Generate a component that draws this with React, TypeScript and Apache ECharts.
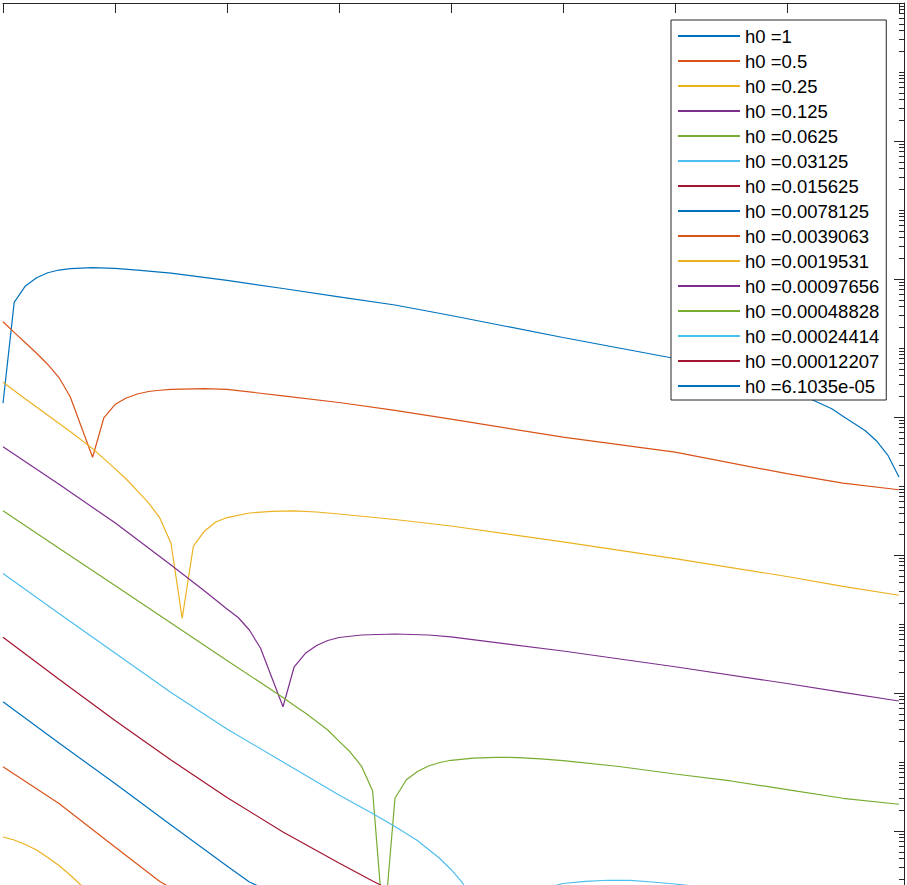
import React, { useEffect, useRef } from 'react';
import * as echarts from 'echarts';

// ---- legend labels (h0 values) ----
const legendLabels = [
  'h0 =1', 'h0 =0.5', 'h0 =0.25', 'h0 =0.125', 'h0 =0.0625', 'h0 =0.03125',
  'h0 =0.015625', 'h0 =0.0078125', 'h0 =0.0039063', 'h0 =0.0019531',
  'h0 =0.00097656', 'h0 =0.00048828', 'h0 =0.00024414', 'h0 =0.00012207', 'h0 =6.1035e-05',
];

// MATLAB default colour order
const palette = ['#0072BD', '#D95319', '#EDB120', '#7E2F8E', '#77AC30', '#4DBEEE', '#A2142F'];

// ---- tick values ----
const xTickValues = [0, 1, 2, 3, 4, 5, 6, 7, 8];
const yMajorExponents = [0, -2, -4, -6, -8, -10, -12, -14, -16, -18];
const yOddExponents = [-1, -3, -5, -7, -9, -11, -13, -15, -17];
const yMinorMantissas = [2, 3, 4, 5, 6, 7, 8, 9];
const yDecadeExponents = [-1, -2, -3, -4, -5, -6, -7, -8, -9, -10, -11, -12, -13, -14, -15, -16, -17, -18];

// ---- series values [x, y] ----
const s1 = [[0, 1.58e-6], [0.1, 4.59e-5], [0.2, 7.93e-5], [0.3, 1.045e-4], [0.4, 1.233e-4], [0.5, 1.349e-4], [0.6, 1.41e-4], [0.7, 1.44e-4], [0.8, 1.459e-4], [1.0, 1.43e-4], [1.2, 1.349e-4], [1.5, 1.213e-4], [2.0, 9.57e-5], [2.5, 7.28e-5], [3.0, 5.52e-5], [3.5, 4.2e-5], [4.0, 2.96e-5], [4.5, 2.05e-5], [5.0, 1.419e-5], [5.5, 1.0e-5], [6.0, 7.05e-6], [6.5, 4.49e-6], [7.0, 2.55e-6], [7.2, 1.854e-6], [7.4, 1.315e-6], [7.5, 1.028e-6], [7.6, 8.05e-7], [7.7, 6.31e-7], [7.8, 4.49e-7], [7.9, 2.81e-7], [8.0, 1.349e-7]];
const s2 = [[0, 2.4e-5], [0.1, 1.683e-5], [0.2, 1.189e-5], [0.3, 8.38e-6], [0.4, 5.77e-6], [0.5, 3.73e-6], [0.6, 1.968e-6], [0.7, 7.16e-7], [0.8, 2.61e-7], [0.9, 9.68e-7], [1.0, 1.517e-6], [1.1, 1.884e-6], [1.2, 2.153e-6], [1.3, 2.344e-6], [1.4, 2.44e-6], [1.5, 2.52e-6], [1.8, 2.57e-6], [2.0, 2.51e-6], [2.5, 2.03e-6], [3.0, 1.622e-6], [3.5, 1.25e-6], [4.0, 9.29e-7], [5.0, 5.12e-7], [6.0, 3.09e-7], [7.0, 1.507e-7], [7.5, 1.104e-7], [8.0, 8.83e-8]];
const s3 = [[0, 3.18e-6], [0.2, 1.828e-6], [0.4, 1.062e-6], [0.6, 6.17e-7], [0.8, 3.48e-7], [0.9, 2.49e-7], [1.0, 1.786e-7], [1.1, 1.262e-7], [1.2, 8.51e-8], [1.3, 5.68e-8], [1.4, 3.44e-8], [1.5, 1.479e-8], [1.6, 1.211e-9], [1.7, 1.349e-8], [1.8, 2.23e-8], [1.9, 3.01e-8], [2.0, 3.49e-8], [2.2, 4.06e-8], [2.4, 4.3e-8], [2.6, 4.35e-8], [2.8, 4.2e-8], [3.0, 3.93e-8], [3.5, 3.27e-8], [4.0, 2.63e-8], [5.0, 1.552e-8], [6.0, 8.87e-9], [7.0, 4.88e-9], [7.5, 3.52e-9], [8.0, 2.61e-9]];
const s4 = [[0, 3.72e-7], [0.5, 1.059e-7], [1.0, 2.93e-8], [1.5, 7.16e-9], [1.8, 3.01e-9], [2.0, 1.648e-9], [2.1, 1.242e-9], [2.2, 8.18e-10], [2.3, 4.45e-10], [2.4, 1.679e-10], [2.5, 6.32e-11], [2.6, 2.4e-10], [2.7, 3.76e-10], [2.8, 4.88e-10], [2.9, 5.77e-10], [3.0, 6.37e-10], [3.2, 6.93e-10], [3.5, 7.16e-10], [3.8, 6.93e-10], [4.0, 6.49e-10], [5.0, 4.06e-10], [6.0, 2.4e-10], [7.0, 1.374e-10], [7.5, 1.023e-10], [8.0, 7.66e-11]];
const s5 = [[0, 4.39e-8], [0.5, 1.25e-8], [1.0, 3.61e-9], [1.5, 1.033e-9], [2.0, 2.96e-10], [2.5, 8.61e-11], [2.6, 6.59e-11], [2.7, 5.13e-11], [2.8, 3.86e-11], [2.9, 2.91e-11], [3.0, 2.01e-11], [3.1, 1.396e-11], [3.2, 8.75e-12], [3.3, 3.84e-12], [3.4, 3.67e-14], [3.5, 2.98e-12], [3.6, 5.48e-12], [3.7, 7.28e-12], [3.8, 8.75e-12], [3.9, 9.84e-12], [4.0, 1.059e-11], [4.2, 1.135e-11], [4.4, 1.169e-11], [4.6, 1.16e-11], [4.8, 1.112e-11], [5.0, 1.047e-11], [5.5, 8.61e-12], [6.0, 6.7e-12], [6.5, 5.31e-12], [7.0, 3.99e-12], [7.5, 2.98e-12], [8.0, 2.44e-12]];
const s6 = [[0, 5.4e-9], [0.5, 1.419e-9], [1.0, 3.8e-10], [1.5, 1.016e-10], [2.0, 3.01e-11], [2.5, 1.0e-11], [3.0, 3.33e-12], [3.3, 1.795e-12], [3.5, 1.161e-12], [3.7, 7.28e-13], [3.9, 3.99e-13], [4.0, 2.77e-13], [4.1, 1.795e-13], [4.2, 1.0e-13], [4.3, 3.67e-14], [4.4, 4.97e-15], [4.5, 3.11e-14], [4.6, 7.66e-14], [4.7, 1.143e-13], [4.8, 1.396e-13], [4.9, 1.57e-13], [5.0, 1.734e-13], [5.2, 1.866e-13], [5.4, 1.932e-13], [5.6, 1.92e-13], [5.8, 1.824e-13], [6.0, 1.706e-13], [6.5, 1.396e-13], [7.0, 1.143e-13], [8.0, 7.16e-14]];
const s7 = [[0, 6.41e-10], [0.5, 1.581e-10], [1.0, 3.99e-11], [1.5, 1.069e-11], [2.0, 3.06e-12], [2.5, 9.68e-13], [3.0, 3.44e-13], [3.3, 1.884e-13], [3.6, 1.069e-13], [4.0, 5.13e-14], [4.5, 1.596e-14], [5.0, 3.56e-15], [5.3, 1.26e-16], [5.6, 2.55e-15], [6.0, 4.97e-15], [7.0, 5.86e-15], [8.0, 4.65e-15]];
const s8 = [[0, 7.48e-11], [0.5, 1.884e-11], [1.0, 4.88e-12], [1.5, 1.222e-12], [2.0, 3.11e-13], [2.2, 1.824e-13], [2.6, 9.35e-14], [3.0, 3.67e-14], [4.0, 5.86e-15], [5.0, 9.35e-16]];
const s9 = [[0, 8.55e-12], [0.5, 2.51e-12], [1.0, 5.86e-13], [1.4, 1.854e-13], [2.0, 5.13e-14], [3.0, 6.93e-15], [4.0, 9.35e-16]];
const s10 = [[0, 8.18e-13], [0.1, 7.41e-13], [0.2, 6.37e-13], [0.3, 5.31e-13], [0.4, 4.13e-13], [0.5, 3.16e-13], [0.6, 2.3e-13], [0.7, 1.62e-13], [1.0, 6.0e-14], [2.0, 1.349e-14]];
const s11 = [[0, 1.0e-13], [0.5, 2.9e-14], [1.0, 7.8e-15]];
const s12 = [[0, 1.15e-14], [0.5, 3.3e-15], [1.0, 9.0e-16]];
const s13 = [[0, 1.3e-15], [0.5, 3.7e-16], [1.0, 1.0e-16]];
const s14 = [[0, 1.5e-16], [0.5, 4.2e-17], [1.0, 1.1e-17]];
const s15 = [[0, 1.7e-17], [0.5, 4.8e-18], [1.0, 1.3e-18]];

const allSeries = [s1, s2, s3, s4, s5, s6, s7, s8, s9, s10, s11, s12, s13, s14, s15];

const axisColor = '#262626';

function buildOption() {
  const yMajor = yMajorExponents.map((e) => Math.pow(10, e));
  const yMinor: number[] = [];
  yOddExponents.forEach((e) => yMinor.push(Math.pow(10, e)));
  yDecadeExponents.forEach((e) => {
    yMinorMantissas.forEach((m) => yMinor.push(m * Math.pow(10, e)));
  });

  const yBase = {
    type: 'log' as const,
    logBase: 10,
    min: 1e-18,
    max: 1,
    position: 'right' as const,
    axisLabel: { show: false },
    splitLine: { show: false },
    minorTick: { show: false },
    minorSplitLine: { show: false },
  };

  return {
    animation: false,
    backgroundColor: '#ffffff',
    grid: { left: 3, top: 3, width: 901, height: 1242, containLabel: false, outerBoundsMode: 'none' },
    xAxis: {
      type: 'value',
      min: 0,
      max: 8.045,
      position: 'top',
      axisLine: { show: true, onZero: false, lineStyle: { color: axisColor, width: 1 } },
      axisTick: { show: true, inside: true, length: 10, customValues: xTickValues, lineStyle: { color: axisColor, width: 1 } },
      axisLabel: { show: false },
      splitLine: { show: false },
    },
    yAxis: [
      {
        ...yBase,
        axisLine: { show: true, onZero: false, lineStyle: { color: axisColor, width: 1 } },
        axisTick: { show: true, inside: true, length: 10, customValues: yMajor, lineStyle: { color: axisColor, width: 1 } },
      },
      {
        ...yBase,
        axisLine: { show: false, onZero: false },
        axisTick: { show: true, inside: true, length: 5, customValues: yMinor, lineStyle: { color: axisColor, width: 1 } },
      },
    ],
    legend: {
      orient: 'vertical',
      left: 671,
      top: 20,
      padding: [6, 7, 4, 6],
      itemWidth: 62,
      itemHeight: 12,
      itemGap: 5,
      itemTextGap: 6,
      backgroundColor: '#ffffff',
      borderColor: axisColor,
      borderWidth: 1,
      borderRadius: 0,
      selectedMode: false,
      itemStyle: { opacity: 0 },
      textStyle: {
        fontFamily: '"Liberation Sans", Arial, Helvetica, sans-serif',
        fontSize: 18.5,
        lineHeight: 20,
        color: '#000000',
      },
      data: legendLabels,
    },
    series: allSeries.map((d, i) => ({
      name: legendLabels[i],
      type: 'line',
      xAxisIndex: 0,
      yAxisIndex: 0,
      data: d,
      symbol: 'none',
      showSymbol: false,
      clip: true,
      lineStyle: { color: palette[i % palette.length], width: 1.2 },
      itemStyle: { color: palette[i % palette.length] },
      emphasis: { disabled: true },
    })),
  };
}

export default function App() {
  const ref = useRef<HTMLDivElement>(null);
  useEffect(() => {
    document.body.style.margin = '0';
    const chart = echarts.init(ref.current as HTMLDivElement, null, { renderer: 'svg' });
    chart.setOption(buildOption() as any);
    return () => chart.dispose();
  }, []);
  return <div ref={ref} style={{ width: 907, height: 885, overflow: 'hidden', background: '#fff' }} />;
}
